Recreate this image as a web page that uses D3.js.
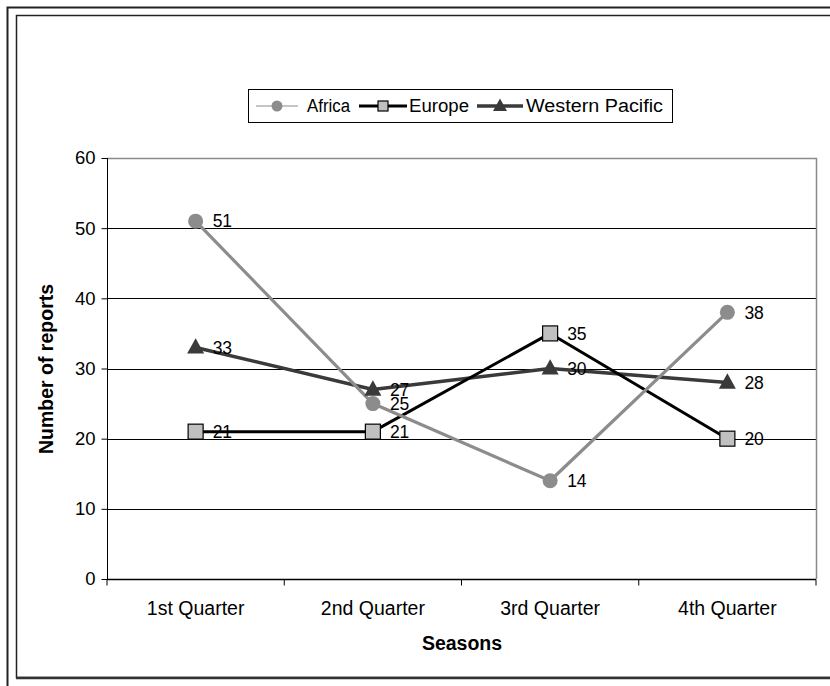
<!DOCTYPE html>
<html>
<head>
<meta charset="utf-8">
<script src="https://cdn.jsdelivr.net/npm/d3@7"></script>
<style>
  html, body { margin: 0; padding: 0; background: #fff; }
  svg { display: block; font-family: Arial, "Liberation Sans", sans-serif; }
</style>
</head>
<body>
<svg id="chart" width="830" height="686"></svg>
<script>
const categories = ["1st Quarter", "2nd Quarter", "3rd Quarter", "4th Quarter"];
const africa = [51, 25, 14, 38];
const europe = [21, 21, 35, 20];
const westernPacific = [33, 27, 30, 28];
const yTicks = [0, 10, 20, 30, 40, 50, 60];
const seriesNames = ["Africa", "Europe", "Western Pacific"];

const svg = d3.select("#chart");
svg.append("rect").attr("width", 830).attr("height", 686).attr("fill", "#fff");

// frames
svg.append("path").attr("d", "M7.5,686 V7.5 H830").attr("fill", "none").attr("stroke", "#222").attr("stroke-width", 2);
svg.append("path").attr("d", "M830,15.5 H16.5 V677.5 H830").attr("fill", "none").attr("stroke", "#222").attr("stroke-width", 1.5);
svg.append("line").attr("x1", 16).attr("x2", 830).attr("y1", 678).attr("y2", 678).attr("stroke", "#333").attr("stroke-width", 2.5);

const x = d3.scaleBand().domain(categories).range([107, 816]).paddingInner(0).paddingOuter(0);
const y = d3.scaleLinear().domain([0, 60]).range([579, 158]);
const cx = c => x(c) + x.bandwidth() / 2;

// gridlines
svg.append("g").selectAll("line").data(yTicks.filter(t => t > 0 && t < 60)).join("line")
  .attr("x1", 107).attr("x2", 816)
  .attr("y1", d => Math.round(y(d)) + 0.5).attr("y2", d => Math.round(y(d)) + 0.5)
  .attr("stroke", "#000").attr("stroke-width", 1);

// plot border top/right (gray)
svg.append("path")
  .attr("d", `M107,${Math.round(y(60)) + 0.5} H${816.5} V${Math.round(y(0))}`)
  .attr("fill", "none").attr("stroke", "#8a8a8a").attr("stroke-width", 1.5);

// y axis
const yAxis = d3.axisLeft(y).tickValues(yTicks).tickSize(6).tickPadding(6).tickFormat(d3.format("d"));
const gy = svg.append("g").attr("transform", "translate(107.5,0)").call(yAxis);
gy.select(".domain").attr("stroke", "#000").attr("d", `M0,${y(60)}V${y(0)}`);
gy.selectAll(".tick line").attr("stroke", "#000");
gy.selectAll(".tick text").attr("font-size", 18.5).attr("fill", "#000").attr("font-family", "Arial, 'Liberation Sans', sans-serif");

// x axis
const xAxis = d3.axisBottom(x).tickSize(0).tickPadding(22);
const gx = svg.append("g").attr("transform", `translate(0,${Math.round(y(0)) + 0.5})`).call(xAxis);
gx.select(".domain").attr("stroke", "#000").attr("stroke-width", 1.5).attr("d", "M107,0H816");
gx.selectAll(".tick text").attr("font-size", 19.5).attr("fill", "#000").attr("font-family", "Arial, 'Liberation Sans', sans-serif");
// category boundary ticks
const bounds = categories.map(c => x(c)).concat([x.range()[1]]);
gx.append("g").selectAll("line").data(bounds).join("line")
  .attr("x1", d => d).attr("x2", d => d).attr("y1", 0).attr("y2", 6)
  .attr("stroke", "#000");

// axis titles
svg.append("text").attr("x", 462).attr("y", 650).attr("text-anchor", "middle")
  .attr("font-size", 19.5).attr("font-weight", "bold").text("Seasons");
svg.append("text").attr("transform", "translate(53,369) rotate(-90)").attr("text-anchor", "middle")
  .attr("font-size", 19.5).attr("font-weight", "bold").text("Number of reports");

// series
const series = [
  { name: "Western Pacific", values: westernPacific, color: "#3a3a3a", width: 3.5, marker: "triangle" },
  { name: "Europe", values: europe, color: "#000", width: 3, marker: "square" },
  { name: "Africa", values: africa, color: "#8c8c8c", width: 3.2, marker: "circle" }
];

const line = d3.line().x((d, i) => cx(categories[i])).y(d => y(d));

series.forEach(s => {
  svg.append("path").datum(s.values).attr("d", line)
    .attr("fill", "none").attr("stroke", s.color).attr("stroke-width", s.width)
    .attr("stroke-linejoin", "round");
});

function drawMarker(g, type, px, py, size) {
  if (type === "circle") {
    g.append("circle").attr("cx", px).attr("cy", py).attr("r", size / 2).attr("fill", "#8c8c8c");
  } else if (type === "square") {
    g.append("rect").attr("x", px - size / 2).attr("y", py - size / 2).attr("width", size).attr("height", size)
      .attr("fill", "#c0c0c0").attr("stroke", "#000").attr("stroke-width", 1.2);
  } else {
    const h = size * 0.9, w = size;
    g.append("path").attr("d", `M${px},${py - h * 0.6} L${px + w / 2},${py + h * 0.4} L${px - w / 2},${py + h * 0.4} Z`)
      .attr("fill", "#3a3a3a");
  }
}

const markers = svg.append("g");
series.forEach(s => {
  s.values.forEach((v, i) => {
    drawMarker(markers, s.marker, cx(categories[i]), y(v), s.marker === "triangle" ? 17 : 15);
  });
});

// data labels
const labels = svg.append("g");
series.forEach(s => {
  s.values.forEach((v, i) => {
    labels.append("text").attr("x", cx(categories[i]) + 17).attr("y", y(v)).attr("dy", "0.36em")
      .attr("font-size", 17.5).attr("fill", "#000").text(v);
  });
});

// legend
const lg = svg.append("g");
lg.append("rect").attr("x", 248.5).attr("y", 89.5).attr("width", 424).attr("height", 33)
  .attr("fill", "#fff").attr("stroke", "#000").attr("stroke-width", 1);
const legendItems = [
  { name: seriesNames[0], x0: 256, x1: 298, tx: 307, len: 43, color: "#8c8c8c", width: 1.2, marker: "circle", size: 11 },
  { name: seriesNames[1], x0: 359, x1: 407, tx: 409, len: 60, color: "#000", width: 3, marker: "square", size: 10 },
  { name: seriesNames[2], x0: 477, x1: 523, tx: 526, len: 137, color: "#3a3a3a", width: 3.5, marker: "triangle", size: 14 }
];
legendItems.forEach(it => {
  const ly = 106;
  lg.append("line").attr("x1", it.x0).attr("x2", it.x1).attr("y1", ly).attr("y2", ly)
    .attr("stroke", it.color).attr("stroke-width", it.width);
  drawMarker(lg, it.marker, (it.x0 + it.x1) / 2, ly, it.size);
  lg.append("text").attr("x", it.tx).attr("y", ly).attr("dy", "0.36em").attr("font-size", 18)
    .attr("textLength", it.len).attr("lengthAdjust", "spacingAndGlyphs")
    .attr("fill", "#000").text(it.name);
});
</script>
</body>
</html>
